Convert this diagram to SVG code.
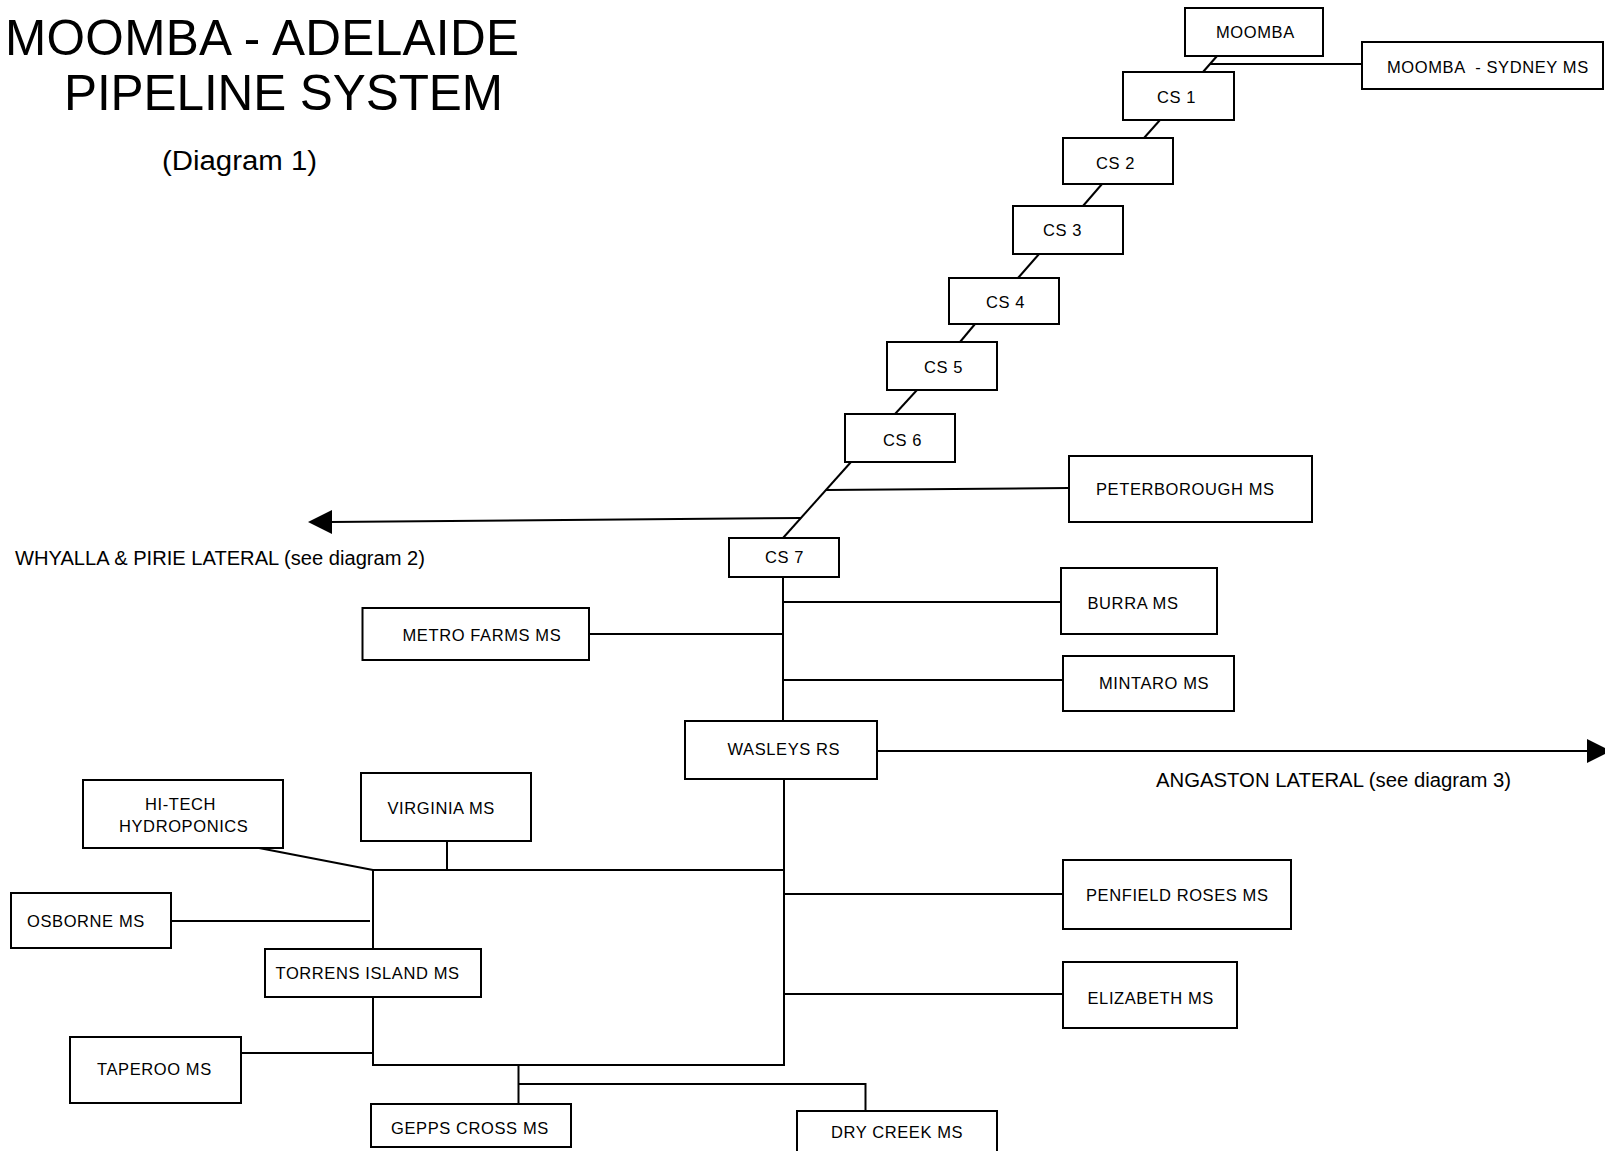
<svg xmlns="http://www.w3.org/2000/svg" width="1605" height="1151" viewBox="0 0 1605 1151">
<style>
.box{fill:#fff;stroke:#000;stroke-width:2}
.lbl{font-family:"Liberation Sans",Arial,sans-serif;font-size:16.5px;letter-spacing:0.6px;fill:#000}
.big{font-family:"Liberation Sans",Arial,sans-serif;fill:#000}
.ln{fill:none;stroke:#000;stroke-width:2}
.arr{fill:#000;stroke:none}
</style>
<rect width="1605" height="1151" fill="#fff"/>
<g id="title">
<text class="big" x="5" y="55" font-size="49.5" textLength="514" lengthAdjust="spacing">MOOMBA - ADELAIDE</text>
<text class="big" x="64" y="110" font-size="49.5" textLength="439" lengthAdjust="spacing">PIPELINE SYSTEM</text>
<text class="big" x="162" y="170" font-size="27" textLength="155" lengthAdjust="spacingAndGlyphs">(Diagram 1)</text>
</g>
<g id="connectors">
<line class="ln" x1="1217" y1="56" x2="1203" y2="72"/>
<line class="ln" x1="1210" y1="64" x2="1362" y2="64"/>
<line class="ln" x1="1160" y1="120" x2="1144" y2="138"/>
<line class="ln" x1="1102" y1="184" x2="1083" y2="206"/>
<line class="ln" x1="1039" y1="254" x2="1018" y2="278"/>
<line class="ln" x1="975" y1="324" x2="960" y2="342"/>
<line class="ln" x1="917" y1="390" x2="895" y2="414"/>
<line class="ln" x1="851" y1="462" x2="783" y2="538"/>
<line class="ln" x1="826" y1="490" x2="1069" y2="488"/>
<line class="ln" x1="801" y1="518" x2="330" y2="522"/>
<polygon class="arr" points="308,522 332,510 332,534"/>
<line class="ln" x1="783" y1="577" x2="783" y2="721"/>
<line class="ln" x1="783" y1="602" x2="1061" y2="602"/>
<line class="ln" x1="589" y1="634" x2="783" y2="634"/>
<line class="ln" x1="783" y1="680" x2="1063" y2="680"/>
<line class="ln" x1="877" y1="751" x2="1589" y2="751"/>
<polygon class="arr" points="1587,739 1611,751 1587,763"/>
<line class="ln" x1="784" y1="779" x2="784" y2="1066"/>
<line class="ln" x1="784" y1="894" x2="1063" y2="894"/>
<line class="ln" x1="784" y1="994" x2="1063" y2="994"/>
<line class="ln" x1="373" y1="870" x2="785" y2="870"/>
<line class="ln" x1="447" y1="841" x2="447" y2="870"/>
<line class="ln" x1="259" y1="848" x2="373" y2="870"/>
<line class="ln" x1="373" y1="870" x2="373" y2="949"/>
<line class="ln" x1="373" y1="997" x2="373" y2="1066"/>
<line class="ln" x1="171" y1="921" x2="370" y2="921"/>
<line class="ln" x1="241" y1="1053" x2="373" y2="1053"/>
<line class="ln" x1="372" y1="1065" x2="785" y2="1065"/>
<line class="ln" x1="518.5" y1="1065" x2="518.5" y2="1104"/>
<polyline class="ln" points="518.5,1084 865.5,1084 865.5,1111"/>
</g>
<g id="moomba"><rect class="box" x="1185" y="8" width="138" height="48"/><text class="lbl" x="1216" y="38">MOOMBA</text></g>
<g id="moomba-sydney"><rect class="box" x="1362" y="42" width="241" height="47"/><text class="lbl" x="1387" y="73" style="white-space:pre">MOOMBA  - SYDNEY MS</text></g>
<g id="cs1"><rect class="box" x="1123" y="72" width="111" height="48"/><text class="lbl" x="1157" y="103">CS 1</text></g>
<g id="cs2"><rect class="box" x="1063" y="138" width="110" height="46"/><text class="lbl" x="1096" y="169">CS 2</text></g>
<g id="cs3"><rect class="box" x="1013" y="206" width="110" height="48"/><text class="lbl" x="1043" y="236">CS 3</text></g>
<g id="cs4"><rect class="box" x="949" y="278" width="110" height="46"/><text class="lbl" x="986" y="308">CS 4</text></g>
<g id="cs5"><rect class="box" x="887" y="342" width="110" height="48"/><text class="lbl" x="924" y="373">CS 5</text></g>
<g id="cs6"><rect class="box" x="845" y="414" width="110" height="48"/><text class="lbl" x="883" y="445.5">CS 6</text></g>
<g id="cs7"><rect class="box" x="729" y="538" width="110" height="39"/><text class="lbl" x="765" y="563">CS 7</text></g>
<g id="peterborough"><rect class="box" x="1069" y="456" width="243" height="66"/><text class="lbl" x="1096" y="495">PETERBOROUGH MS</text></g>
<g id="burra"><rect class="box" x="1061" y="568" width="156" height="66"/><text class="lbl" x="1087.5" y="609">BURRA MS</text></g>
<g id="mintaro"><rect class="box" x="1063" y="656" width="171" height="55"/><text class="lbl" x="1099" y="689">MINTARO MS</text></g>
<g id="metro-farms"><rect class="box" x="362.5" y="608" width="226.5" height="52"/><text class="lbl" x="402.5" y="641">METRO FARMS MS</text></g>
<g id="wasleys"><rect class="box" x="685" y="721" width="192" height="58"/><text class="lbl" x="727.5" y="755">WASLEYS RS</text></g>
<g id="hi-tech"><rect class="box" x="83" y="780" width="200" height="68"/><text class="lbl" x="145" y="810">HI-TECH</text><text class="lbl" x="119" y="832">HYDROPONICS</text></g>
<g id="virginia"><rect class="box" x="361" y="773" width="170" height="68"/><text class="lbl" x="387.5" y="814">VIRGINIA MS</text></g>
<g id="osborne"><rect class="box" x="11" y="893" width="160" height="55"/><text class="lbl" x="27" y="927">OSBORNE MS</text></g>
<g id="torrens"><rect class="box" x="265" y="949" width="216" height="48"/><text class="lbl" x="275.5" y="979">TORRENS ISLAND MS</text></g>
<g id="taperoo"><rect class="box" x="70" y="1037" width="171" height="66"/><text class="lbl" x="97" y="1075">TAPEROO MS</text></g>
<g id="gepps"><rect class="box" x="371" y="1104" width="200" height="43"/><text class="lbl" x="391" y="1134">GEPPS CROSS MS</text></g>
<g id="dry-creek"><rect class="box" x="797" y="1111" width="200" height="50"/><text class="lbl" x="831" y="1138">DRY CREEK MS</text></g>
<g id="penfield"><rect class="box" x="1063" y="860" width="228" height="69"/><text class="lbl" x="1086" y="901">PENFIELD ROSES MS</text></g>
<g id="elizabeth"><rect class="box" x="1063" y="962" width="174" height="66"/><text class="lbl" x="1087.5" y="1004">ELIZABETH MS</text></g>
<g id="lateral-labels">
<text class="big" x="15" y="565" font-size="20" textLength="410" lengthAdjust="spacingAndGlyphs">WHYALLA &amp; PIRIE LATERAL (see diagram 2)</text>
<text class="big" x="1156" y="787" font-size="20" textLength="355" lengthAdjust="spacingAndGlyphs">ANGASTON LATERAL (see diagram 3)</text>
</g>
</svg>
